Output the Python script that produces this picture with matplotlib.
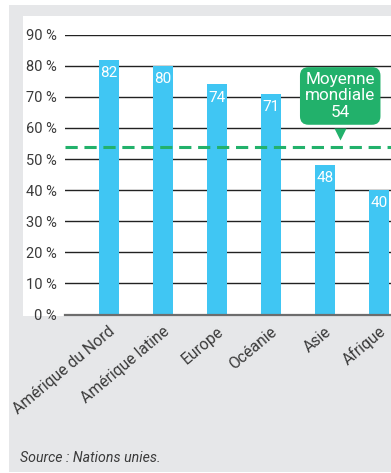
import matplotlib
matplotlib.use('Agg')
import matplotlib.pyplot as plt
from matplotlib.patches import Rectangle
from matplotlib.transforms import ScaledTranslation

plt.rcParams['font.family'] = ['Roboto', 'DejaVu Sans']

regions = ['Amérique du Nord', 'Amérique latine', 'Europe', 'Océanie', 'Asie', 'Afrique']
values = [82, 80, 74, 71, 48, 40]
world_avg = 54
yticks = [0, 10, 20, 30, 40, 50, 60, 70, 80, 90]

blue = '#40c6f3'
green = '#22b16b'
panel_gray = '#e6e7e9'
text_col = '#3a3a3a'

W, H = 391, 473
fig = plt.figure(figsize=(W / 100, H / 100), dpi=100)
fig.patch.set_facecolor('white')

# gray panel + white plot area
fig.add_artist(Rectangle((9 / W, 1 - 472 / H), 1 - 9 / W, (472 - 5) / H,
                         transform=fig.transFigure, fc=panel_gray, ec='none', zorder=0))
fig.add_artist(Rectangle((23 / W, 1 - 315.5 / H), 1 - 23 / W, (315.5 - 16) / H,
                         transform=fig.transFigure, fc='white', ec='none', zorder=0))

ax = fig.add_axes([65 / W, 1 - 314.5 / H, 1 - 65 / W, (314.5 - 34.7) / H])
ax.patch.set_alpha(0)

x = list(range(len(regions)))
ax.bar(x, values, width=0.37, color=blue, zorder=3)
for xi, v in zip(x, values):
    ax.text(xi, v - 2.0, str(v), ha='center', va='top', color='white', fontsize=11, zorder=4)

ax.set_xlim(-0.815, 5.22)
ax.set_ylim(0, 90)
ax.set_yticks(yticks)
ax.set_yticklabels([f'{t} %' for t in yticks], fontsize=10.5, color=text_col)
ax.yaxis.grid(True, color='#222222', lw=1.0, zorder=1)
ax.tick_params(axis='y', length=0, pad=6)
ax.tick_params(axis='x', length=0, pad=0)
for s in ['top', 'right', 'left']:
    ax.spines[s].set_visible(False)
ax.spines['bottom'].set_color('#6d6d6d')
ax.spines['bottom'].set_linewidth(1.6)
ax.spines['bottom'].set_zorder(5)

ax.set_xticks(x)
ax.set_xticklabels(regions, rotation=40, ha='right', va='center', rotation_mode='anchor',
                   fontsize=11.3, color=text_col)
offset = ScaledTranslation(4 / 100, -15 / 100, fig.dpi_scale_trans)
for lbl in ax.get_xticklabels():
    lbl.set_transform(lbl.get_transform() + offset)

# world average
ax.axhline(world_avg, color=green, lw=2.2, ls=(0, (4, 2.2)), zorder=4)
ax.plot([4.28], [58.2], marker='v', ms=9, color=green, mec='none', zorder=5, clip_on=False)
ax.text(4.28, 70.3, f'Moyenne\nmondiale\n{world_avg}', ha='center', va='center',
        color='white', fontsize=12.3, linespacing=1.1, zorder=6,
        bbox=dict(boxstyle='round,pad=0.3,rounding_size=0.5', fc=green, ec='none'))

fig.text(20 / W, 1 - 458 / H, 'Source : Nations unies.', style='italic', fontsize=10.2,
         color=text_col, va='center', ha='left')

fig.savefig('out.png', dpi=100)
